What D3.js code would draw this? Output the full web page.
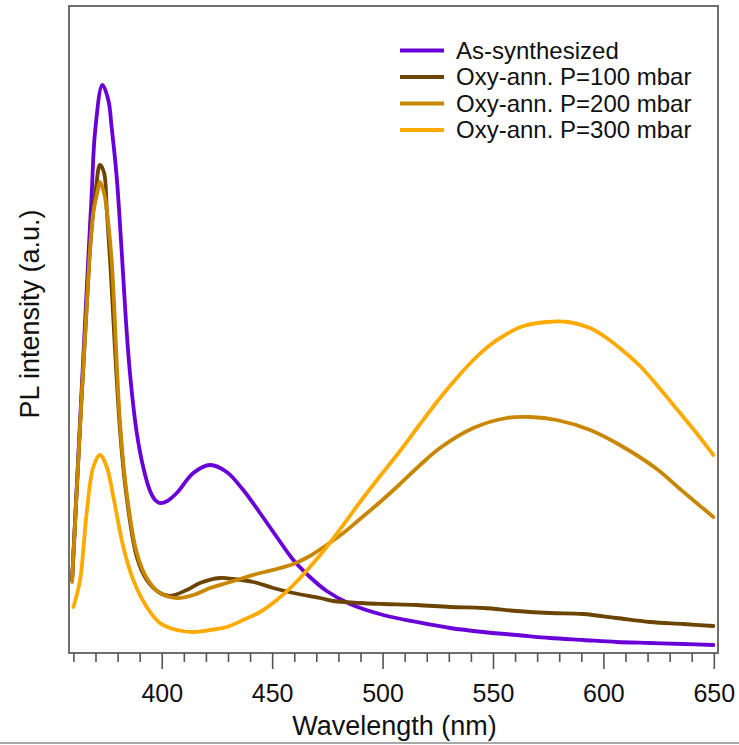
<!DOCTYPE html>
<html>
<head>
<meta charset="utf-8">
<script src="https://cdn.jsdelivr.net/npm/d3@7"></script>
<style>
html,body{margin:0;padding:0;background:#fff;}
svg{display:block;font-family:"Liberation Sans",Arial,sans-serif;}
</style>
</head>
<body>
<svg id="chart" width="739" height="745"></svg>
<script>
// ---- data ----
const seriesNames = ["As-synthesized", "Oxy-ann. P=100 mbar", "Oxy-ann. P=200 mbar", "Oxy-ann. P=300 mbar"];
const seriesColors = ["#6a00d8", "#6b4500", "#c98700", "#ffaa00"];
const xTicks = [400, 450, 500, 550, 600, 650];

const asSynthWl = [359.4,366.7,368.3,369.8,373.1,375.8,377.3,379.6,381.9,383.7,385.6,388.7,391.7,394.7,397,399.2,402.5,406.8,414.3,421.9,429.4,436.9,444.5,452.1,459.6,467.1,474.7,485.3,500.3,515.5,530.6,545.6,560.8,575.8,590.9,606,621.1,636.2,649.8];
const asSynthI  = [73,393,460,521,568,553,526,476,400,335,280,220,185,162,153,150,152,160,180,188,181,163,140,116,93,76,62,49,38,31,25,21,18,15,13,11,10,9,8];

const p100Wl = [359.4,367.2,369,370.2,372,373.9,375.1,376.6,381.1,384.1,388.7,393.2,399.2,403.7,411.3,417.3,426.4,432.4,441.5,450.5,459.6,471.7,477.7,489.8,500.3,515.5,530.6,545.6,560.8,575.8,590.9,606,621.1,636.2,649.8];
const p100I  = [73,393,443,465,488,480,443,393,223,156,96,73,60,57,63,70,75,74,71,65,60,55,52,50,49,48,46,45,42,40,39,35,31,29,27];

const p200Wl = [359.4,367.2,369,370.8,372,373.9,375.1,377.3,381.1,384.1,388.7,393.2,399.2,406.8,414.3,421.9,429.4,436.9,444.5,452.1,459.6,467.1,474.7,482.2,489.8,498.9,507.9,517,526,541.1,556.2,566.8,578.9,594,609,624.2,634.7,643.8,649.8];
const p200I  = [71,393,440,460,471,460,443,393,230,160,100,75,60,55,58,65,70,75,80,84,89,97,108,120,134,151,169,188,205,225,235,236,233,223,206,184,164,147,136];

const p300Wl = [360,363,366,369,372,375.1,378.1,382.6,387.1,393.2,399.2,406.8,414.3,421.9,429.4,436.9,444.5,452.1,459.6,467.1,474.7,482.2,489.8,498.9,507.9,517,526,533.6,541.1,548.7,556.2,563.8,574.3,584.1,594,601.5,609,616.6,624.2,631.7,640.7,649.8];
const p300I  = [46,73,140,186,198,186,156,106,73,46,30,23,21,23,26,33,41,53,68,86,106,128,151,177,202,229,255,275,293,308,319,327,331,331,325,315,302,287,268,248,224,198];

const seriesWl = [asSynthWl, p100Wl, p200Wl, p300Wl];
const seriesI  = [asSynthI, p100I, p200I, p300I];

// ---- layout ----
const svg = d3.select("#chart");
const L = 69, R = 718, T = 6, B = 653;

const x = d3.scaleLinear().domain([358, 651.9]).range([L, R]);
const y = d3.scaleLinear().domain([0, 647]).range([B, T]);

// series lines
const line = d3.line()
  .x(d => x(d[0]))
  .y(d => y(d[1]))
  .curve(d3.curveCatmullRom.alpha(0.5));

const gLines = svg.append("g");
seriesNames.forEach((name, i) => {
  const pts = seriesWl[i].map((w, k) => [w, seriesI[i][k]]);
  gLines.append("path")
    .datum(pts)
    .attr("fill", "none")
    .attr("stroke", seriesColors[i])
    .attr("stroke-width", 3.8)
    .attr("stroke-linejoin", "round")
    .attr("stroke-linecap", "round")
    .attr("d", line);
});

// frame
svg.append("rect")
  .attr("x", L).attr("y", T)
  .attr("width", R - L).attr("height", B - T)
  .attr("fill", "none")
  .attr("stroke", "#6e6e6e")
  .attr("stroke-width", 2);

// bottom ticks: minor every 10, major every 50
const minorTicks = d3.range(360, 651, 10).filter(v => v % 50 !== 0);
const gAxis = svg.append("g").attr("transform", `translate(0,${B})`);
gAxis.call(d3.axisBottom(x).tickValues(minorTicks).tickSize(9).tickFormat(""))
  .call(g => g.select(".domain").remove());
gAxis.selectAll("line").attr("stroke", "#555").attr("stroke-width", 1.6);

const gMajor = svg.append("g").attr("transform", `translate(0,${B})`);
gMajor.call(d3.axisBottom(x).tickValues(xTicks).tickSize(16).tickPadding(15).tickFormat(d3.format("d")))
  .call(g => g.select(".domain").remove());
gMajor.selectAll("line").attr("stroke", "#555").attr("stroke-width", 1.6);
gMajor.selectAll("text")
  .attr("font-family", "'Liberation Sans', Arial, sans-serif")
  .attr("font-size", 25)
  .attr("fill", "#111");

// axis titles
svg.append("text")
  .attr("x", (L + R) / 2 + 1)
  .attr("y", 735)
  .attr("text-anchor", "middle")
  .attr("font-size", 27)
  .attr("fill", "#111")
  .text("Wavelength (nm)");

svg.append("text")
  .attr("transform", "translate(39,314) rotate(-90)")
  .attr("text-anchor", "middle")
  .attr("font-size", 27)
  .attr("fill", "#111")
  .text("PL intensity (a.u.)");

// legend
const legend = svg.append("g");
seriesNames.forEach((name, i) => {
  const ly = 50.5 + i * 26.5;
  legend.append("line")
    .attr("x1", 400).attr("x2", 444)
    .attr("y1", ly).attr("y2", ly)
    .attr("stroke", seriesColors[i])
    .attr("stroke-width", 4);
  legend.append("text")
    .attr("x", 456)
    .attr("y", ly)
    .attr("dy", "0.35em")
    .attr("font-size", 24)
    .attr("fill", "#111")
    .text(name);
});

// bottom border line of the picture
svg.append("line")
  .attr("x1", 0).attr("x2", 739)
  .attr("y1", 743).attr("y2", 743)
  .attr("stroke", "#a8a8a8")
  .attr("stroke-width", 2);
</script>
</body>
</html>
